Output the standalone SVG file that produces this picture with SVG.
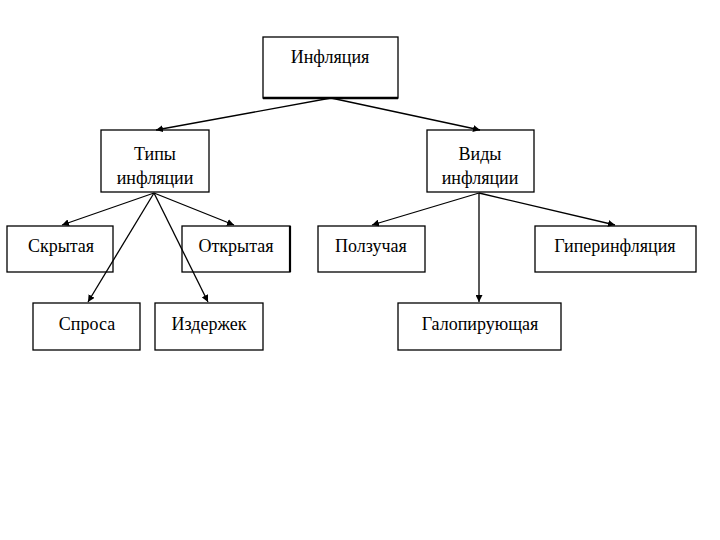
<svg xmlns="http://www.w3.org/2000/svg" width="720" height="540" viewBox="0 0 720 540">
<style>
.box{fill:#fff;stroke:#000;stroke-width:1.3}
.t{font-family:"Liberation Serif","Times New Roman",serif;font-size:18px;fill:#000;text-anchor:middle}
.c{stroke:#000;stroke-width:1.3;fill:none;marker-end:url(#ah)}
</style>
<defs>
<marker id="ah" viewBox="0 0 10 10" refX="10" refY="5" markerWidth="7" markerHeight="7" markerUnits="userSpaceOnUse" orient="auto">
<path d="M0,0 L10,5 L0,10 z" fill="#000"/>
</marker>
</defs>
<rect width="720" height="540" fill="#fff"/>
<g id="inflation">
<rect class="box" x="263" y="37" width="135" height="61"/>
<line x1="263" y1="98" x2="398" y2="98" stroke="#000" stroke-width="2.5"/>
<text class="t" x="330" y="63">Инфляция</text>
</g>
<g id="types">
<rect class="box" x="101" y="130" width="108" height="62"/>
<text class="t" x="155" y="160">Типы</text>
<text class="t" x="155" y="184">инфляции</text>
</g>
<g id="kinds">
<rect class="box" x="427" y="130" width="107" height="62"/>
<text class="t" x="480" y="160">Виды</text>
<text class="t" x="480" y="184">инфляции</text>
</g>
<g id="hidden">
<rect class="box" x="7" y="226" width="106" height="46"/>
<text class="t" x="61" y="252">Скрытая</text>
</g>
<g id="open">
<rect class="box" x="182" y="226" width="108" height="46"/>
<line x1="290" y1="226" x2="290" y2="272" stroke="#000" stroke-width="2.2"/>
<text class="t" x="236" y="252">Открытая</text>
</g>
<g id="creeping">
<rect class="box" x="318" y="226" width="107" height="46"/>
<text class="t" x="371" y="252">Ползучая</text>
</g>
<g id="hyper">
<rect class="box" x="535" y="226" width="161" height="46"/>
<text class="t" x="615" y="252">Гиперинфляция</text>
</g>
<g id="demand">
<rect class="box" x="33" y="303" width="107" height="47"/>
<text class="t" x="87" y="330">Спроса</text>
</g>
<g id="costs">
<rect class="box" x="155" y="303" width="108" height="47"/>
<text class="t" x="209" y="330">Издержек</text>
</g>
<g id="galloping">
<rect class="box" x="398" y="303" width="163" height="47"/>
<text class="t" x="480" y="330">Галопирующая</text>
</g>
<g id="connectors">
<line class="c" x1="331" y1="98" x2="156" y2="130"/>
<line class="c" x1="331" y1="98" x2="480" y2="130"/>
<line class="c" x1="154" y1="193" x2="62" y2="225"/>
<line class="c" x1="154" y1="193" x2="234" y2="225"/>
<line class="c" x1="154" y1="193" x2="88" y2="302"/>
<line class="c" x1="154" y1="193" x2="208" y2="302"/>
<line class="c" x1="479" y1="193" x2="372" y2="225"/>
<line class="c" x1="479" y1="193" x2="615" y2="225"/>
<line class="c" x1="479" y1="193" x2="479" y2="302"/>
</g>
</svg>
